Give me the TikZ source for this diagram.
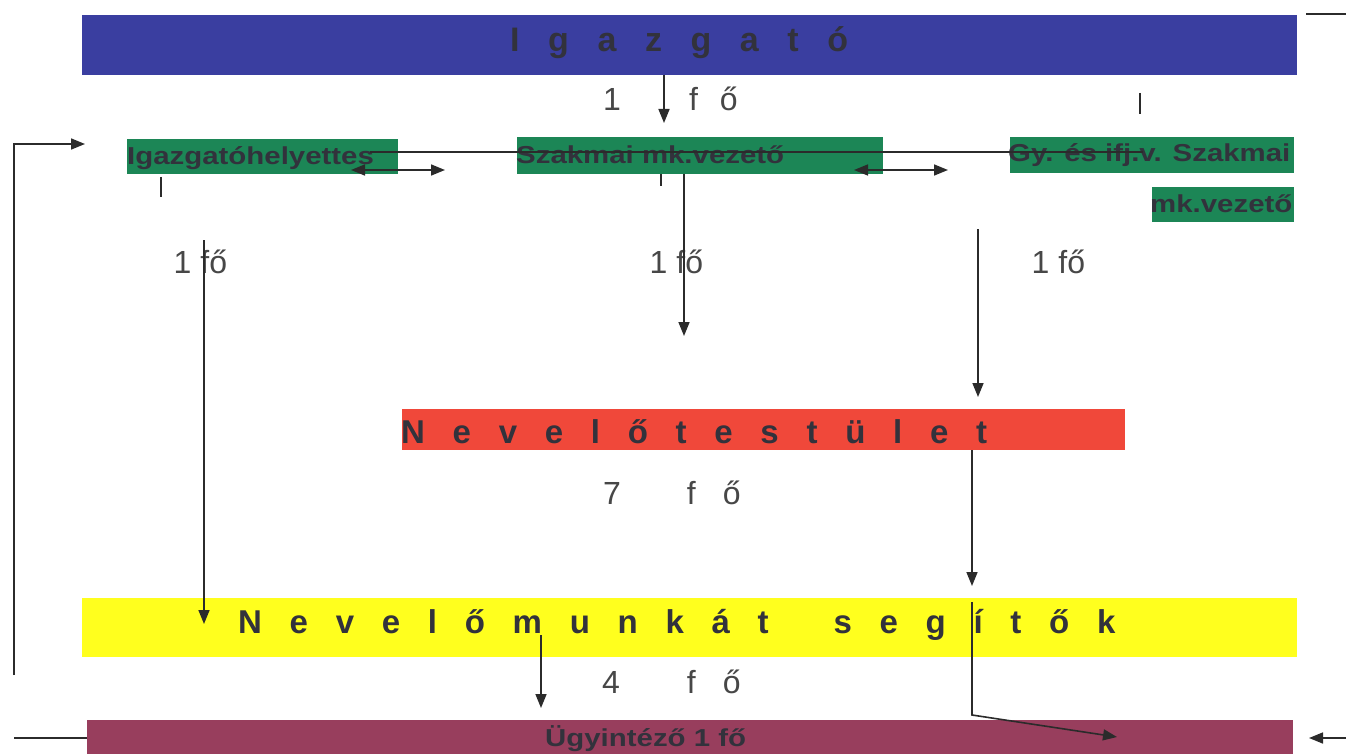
\documentclass[tikz,border=0pt]{standalone}
\usepackage{fontspec}
\setmainfont{Liberation Sans}
\newfontfamily\spacedfont[LetterSpace=84]{Liberation Sans}
\newfontfamily\widefont[FakeStretch=1.2]{Liberation Sans}
\usetikzlibrary{arrows.meta}
\definecolor{cblue}{HTML}{3A3EA0}
\definecolor{cgreen}{HTML}{1C8656}
\definecolor{cred}{HTML}{F0483A}
\definecolor{cyellow}{HTML}{FFFF1E}
\definecolor{cmaroon}{HTML}{983E5D}
\definecolor{ctext}{HTML}{32323C}
\definecolor{cgray}{HTML}{474747}
\definecolor{cline}{HTML}{2B2B2B}
\newcommand{\fofo}[3]{#1\hspace{#2pt}f\hspace{#3pt}ő}
\begin{document}
\begin{tikzpicture}[x=1pt,y=-1pt,
  bar/.style={rectangle,draw=none,inner sep=0pt,outer sep=0pt},
  bigtext/.style={anchor=base west,inner sep=0pt,text=ctext,font=\spacedfont\bfseries\fontsize{33}{40}\selectfont},
  greentext/.style={anchor=base west,inner sep=0pt,text=ctext,font=\widefont\bfseries\fontsize{24.5}{28}\selectfont},
  countlabel/.style={anchor=base west,inner sep=0pt,text=cgray,font=\fontsize{32}{38}\selectfont},
  conn/.style={draw=cline,line width=1.6pt},
  arr/.style={conn,-{Triangle[width=11pt,length=14pt]}},
  darr/.style={conn,{Triangle[width=11pt,length=14pt]}-{Triangle[width=11pt,length=14pt]}},
  thin/.style={draw=cline,line width=1.2pt}]
\useasboundingbox (0,0) rectangle (1346,754);
\fill[white] (0,0) rectangle (1346,754);

% bars
\node[bar,fill=cblue,minimum width=1215pt,minimum height=60pt] (igazgato) at (689.5,45) {};
\node[bar,fill=cgreen,minimum width=271pt,minimum height=35pt] (helyettes) at (262.5,156.5) {};
\node[bar,fill=cgreen,minimum width=366pt,minimum height=37pt] (szakmai) at (700,155.5) {};
\node[bar,fill=cgreen,minimum width=284pt,minimum height=36pt] (gyifj) at (1152,155) {};
\node[bar,fill=cgreen,minimum width=142pt,minimum height=35pt] (mkvez) at (1223,204.5) {};
\node[bar,fill=cred,minimum width=723pt,minimum height=41pt] (testulet) at (763.5,429.5) {};
\node[bar,fill=cyellow,minimum width=1215pt,minimum height=59pt] (segitok) at (689.5,627.5) {};
\node[bar,fill=cmaroon,minimum width=1206pt,minimum height=40pt] (ugyintezo) at (690,740) {};

% bar texts
\node[bigtext,font=\spacedfont\bfseries\fontsize{34}{40}\selectfont] (t-igaz) at (510,52) {Igazgató};
\node[bigtext] (t-test) at (401,443) {Nevelőtestület};
\node[bigtext] (t-seg) at (238,633) {Nevelőmunkát\hspace{28pt} segítők};
\node[greentext] (t-hely) at (127,165) {Igazgatóhelyettes};
\node[greentext] (t-szak) at (516,164) {Szakmai mk.vezető};
\node[greentext] (t-gy) at (1008,162) {Gy. és ifj.v. Szakmai};
\node[greentext] (t-mk) at (1150,213) {mk.vezető};
\node[greentext] (t-ugy) at (545,746) {Ügyintéző 1 fő};

% count labels
\node[countlabel] (n-top) at (603,111) {\fofo{1}{68}{22}};
\node[countlabel] (n-7) at (603,504) {\fofo{7}{66}{27}};
\node[countlabel] (n-4) at (602,693) {\fofo{4}{67}{27}};
\node[countlabel] (n-l) at (173.5,273) {1 fő};
\node[countlabel] (n-m) at (649.5,273) {1 fő};
\node[countlabel] (n-r) at (1031.5,273) {1 fő};

% connector coordinates
\coordinate (a1s) at (664,75);   \coordinate (a1e) at (664,123);
\coordinate (hs) at (370,152);   \coordinate (he) at (1143,152);
\coordinate (tk1s) at (1140,93); \coordinate (tk1e) at (1140,114);
\coordinate (d1s) at (351,170);  \coordinate (d1e) at (445,170);
\coordinate (d2s) at (854,170);  \coordinate (d2e) at (948,170);
\coordinate (tk2s) at (161,177); \coordinate (tk2e) at (161,197);
\coordinate (tk3s) at (661,174); \coordinate (tk3e) at (661,186);
\coordinate (a2s) at (684,174);  \coordinate (a2e) at (684,336);
\coordinate (a3s) at (978,229);  \coordinate (a3e) at (978,397);
\coordinate (a4s) at (204,240);  \coordinate (a4e) at (204,624);
\coordinate (lbs) at (14,675);   \coordinate (lbe) at (85,144);
\coordinate (a5s) at (972,450);  \coordinate (a5e) at (972,586);
\coordinate (a6s) at (972,602);  \coordinate (a6m) at (972,715); \coordinate (a6e) at (1117,737);
\coordinate (a7s) at (541,635);  \coordinate (a7e) at (541,708);
\coordinate (lls) at (14,738);   \coordinate (lle) at (87,738);
\coordinate (ras) at (1346,738); \coordinate (rae) at (1309,738);
\coordinate (trs) at (1306,14);  \coordinate (tre) at (1346,14);

% connectors
\draw[arr] (a1s) -- (a1e);
\draw[conn] (hs) -- (he);
\draw[thin] (tk1s) -- (tk1e);
\draw[darr] (d1s) -- (d1e);
\draw[darr] (d2s) -- (d2e);
\draw[thin] (tk2s) -- (tk2e);
\draw[thin] (tk3s) -- (tk3e);
\draw[arr] (a2s) -- (a2e);
\draw[arr] (a3s) -- (a3e);
\draw[arr] (a4s) -- (a4e);
\draw[arr] (lbs) |- (lbe);
\draw[arr] (a5s) -- (a5e);
\draw[arr] (a6s) -- (a6m) -- (a6e);
\draw[arr] (a7s) -- (a7e);
\draw[conn] (lls) -- (lle);
\draw[arr] (ras) -- (rae);
\draw[thin] (trs) -- (tre);
\end{tikzpicture}
\end{document}
